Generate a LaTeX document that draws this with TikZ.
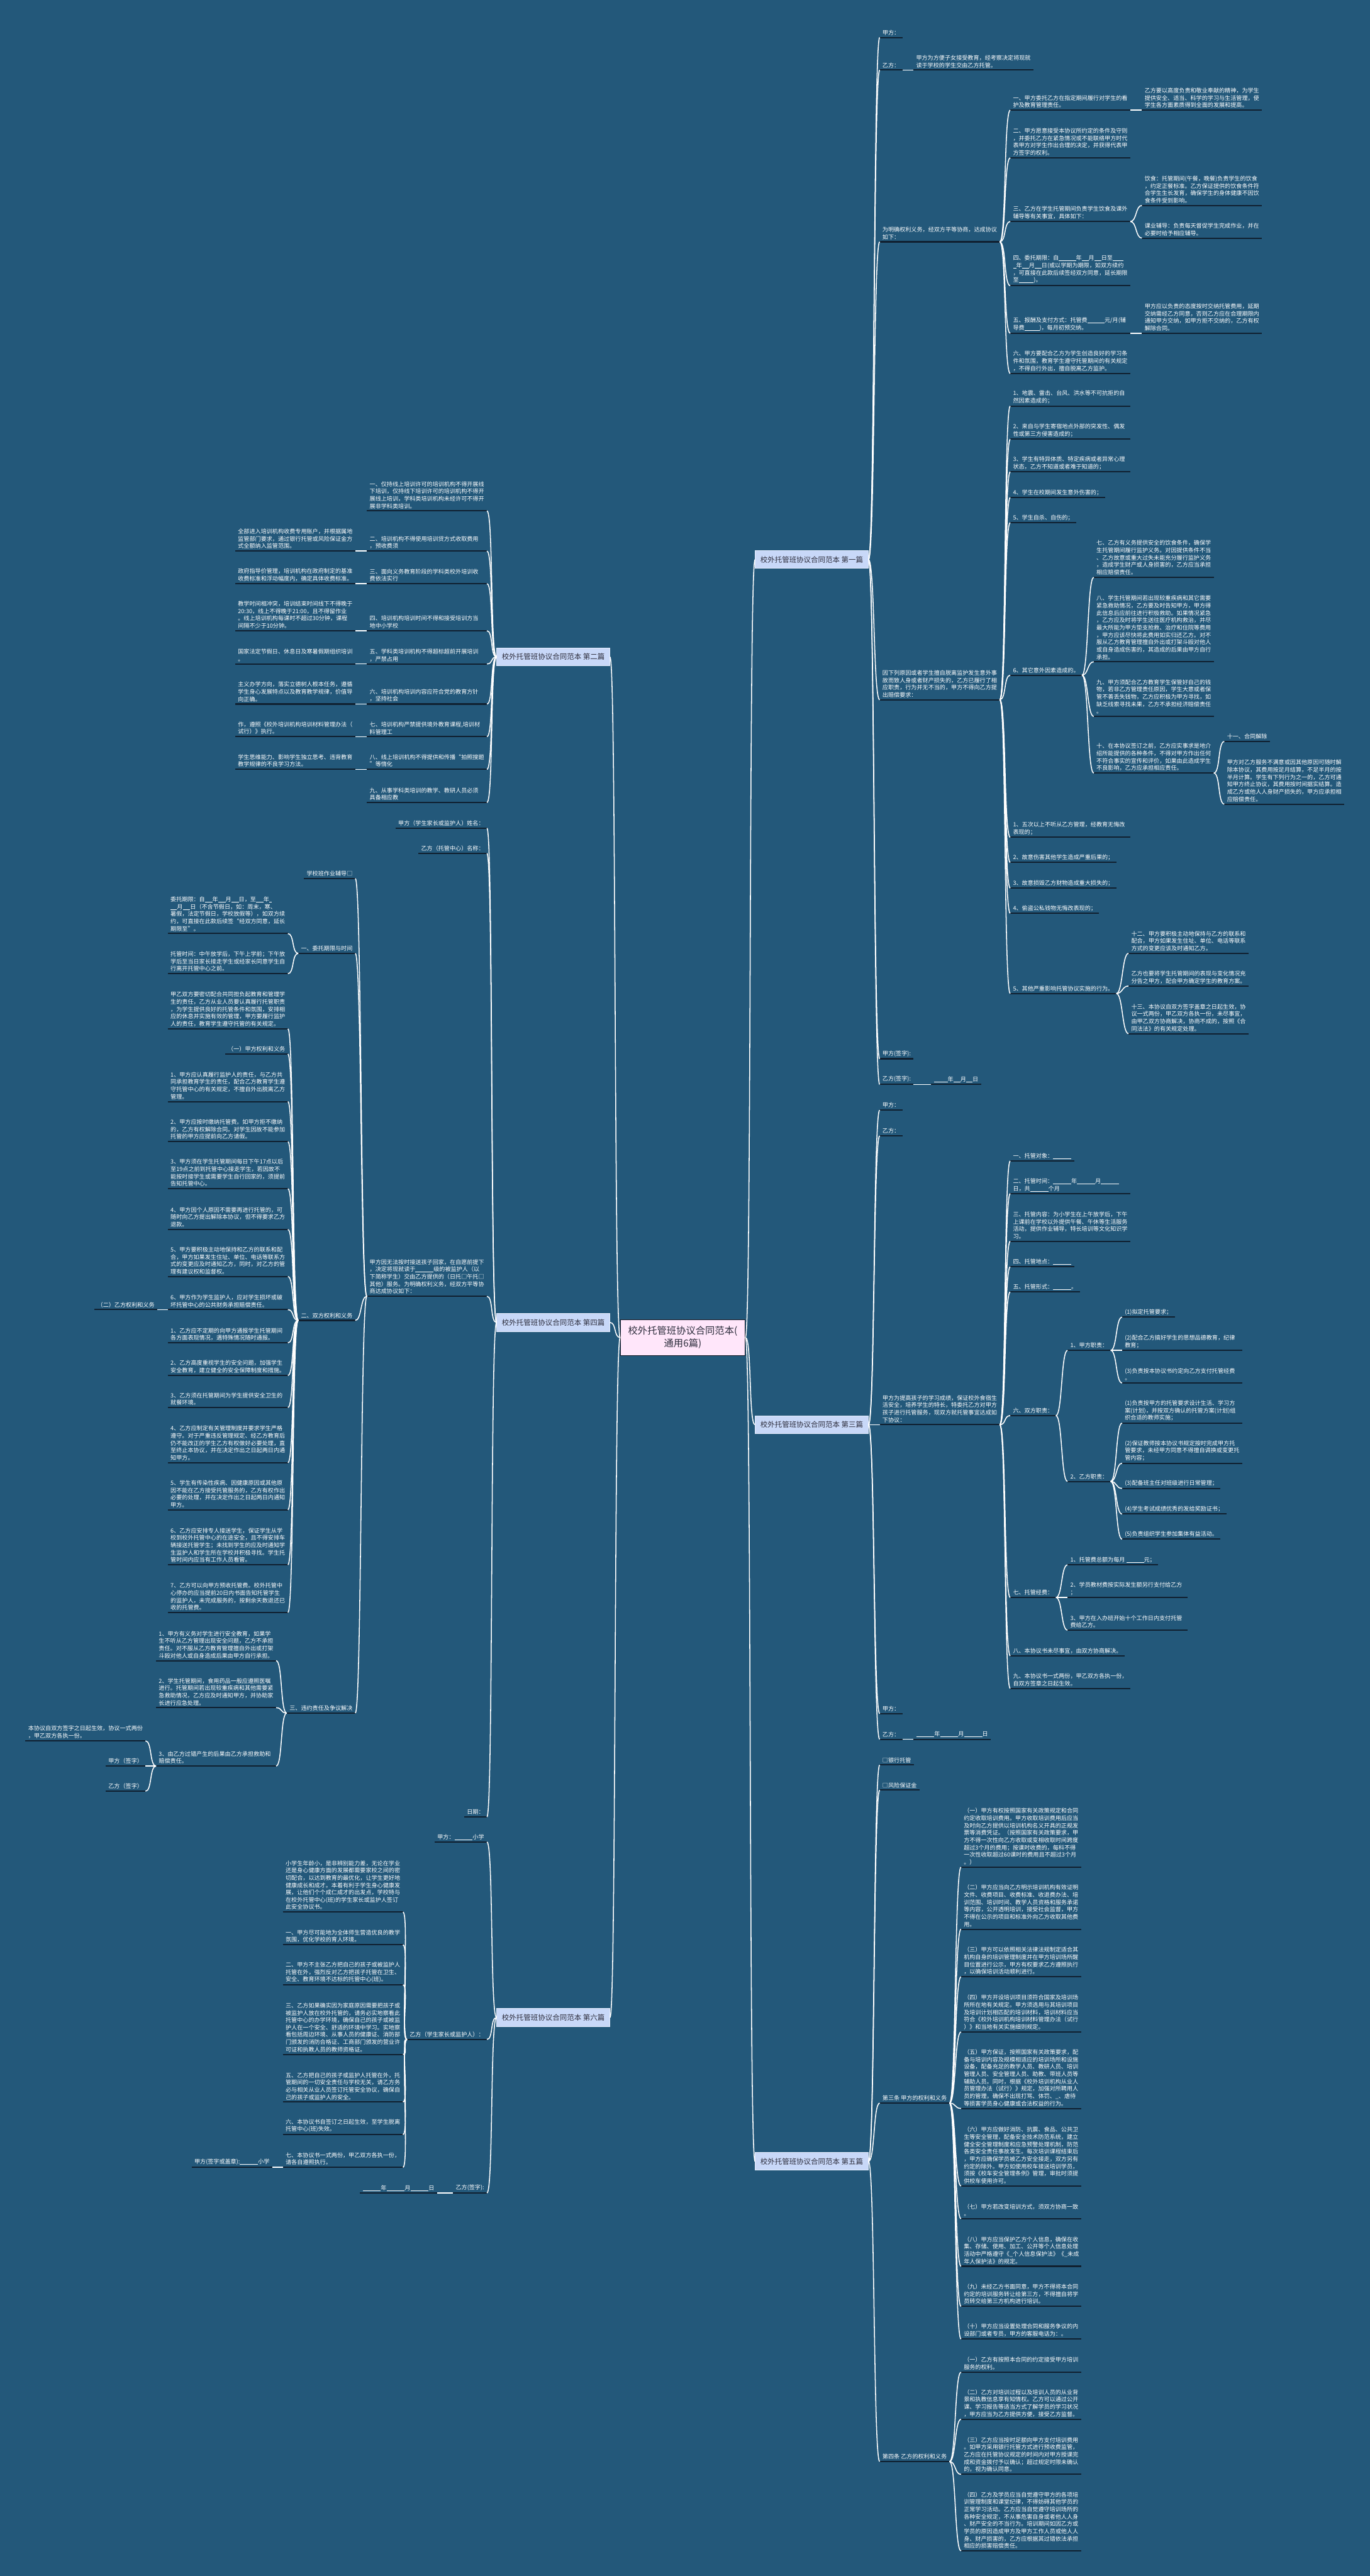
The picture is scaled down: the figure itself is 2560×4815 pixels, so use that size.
\documentclass[tikz,border=0pt]{standalone}
\usepackage{fontspec}
\setmainfont{Noto Sans CJK SC}
\usepackage{xcolor}
\usepackage{tikz}
\usetikzlibrary{calc}

\definecolor{bgblue}{RGB}{35,88,122}
\definecolor{ulinec}{RGB}{16,32,48}
\definecolor{branchfill}{RGB}{200,216,248}
\definecolor{branchline}{RGB}{228,236,252}
\definecolor{branchtext}{RGB}{45,45,60}
\definecolor{rootfill}{RGB}{255,230,250}
\definecolor{rootline}{RGB}{20,25,35}
\newcommand\leaffont{\fontsize{10.7}{13.7}\selectfont}
\newcommand\branchfont{\fontsize{13.5}{16}\selectfont}
\newcommand\rootfont{\fontsize{18}{23}\selectfont}
\newcommand\blk[1]{\rule[-1.2pt]{#1pt}{0.7pt}}

\tikzset{
  uline/.style={draw=ulinec, line width=2.4pt},
  leaf/.style={font=\leaffont, text=white, inner xsep=5pt, inner ysep=4pt, align=left,
    append after command={(\tikzlastnode.south west) edge[uline] (\tikzlastnode.south east)}},
  wide/.style={leaf, text width=214pt},
  branch/.style={draw=branchline, line width=1pt, fill=branchfill, text=branchtext, font=\branchfont,
    minimum width=211pt, minimum height=33pt, inner sep=3pt},
  root/.style={draw=rootline, line width=1pt, fill=rootfill, text=branchtext, font=\rootfont,
    align=center, minimum width=233pt, minimum height=67pt, inner sep=4pt},
  linkr/.style={draw=white, line width=1.8pt,
    to path={.. controls ($(\tikztostart)+(12,0)$) and ($(\tikztotarget)+(-12,0)$) .. (\tikztotarget)}},
  linkl/.style={draw=white, line width=1.8pt,
    to path={.. controls ($(\tikztostart)+(-12,0)$) and ($(\tikztotarget)+(12,0)$) .. (\tikztotarget)}}
}

\begin{document}
\begin{tikzpicture}[x=1pt, y=-1pt]
\useasboundingbox (0,0) rectangle (2560,4815);
\fill[bgblue] (0,0) rectangle (2560,4815);

% centre
\node[root] (root) at (1276,2500) {校外托管班协议合同范本(\\通用6篇)};
\node[branch] (p1) at (1517,1046) {校外托管班协议合同范本 第一篇};
\node[branch] (p3) at (1517,2663) {校外托管班协议合同范本 第三篇};
\node[branch] (p5) at (1517,4040) {校外托管班协议合同范本 第五篇};
\node[branch] (p2) at (1034,1228) {校外托管班协议合同范本 第二篇};
\node[branch] (p4) at (1034,2472) {校外托管班协议合同范本 第四篇};
\node[branch] (p6) at (1034,3771) {校外托管班协议合同范本 第六篇};

% first
\node[leaf, anchor=south west] (a1) at (1644,70) {甲方：};
\node[leaf, anchor=south west] (a2) at (1644,131) {乙方：};
\node[wide, anchor=south west] (a2a) at (1707,131) {甲方为方便子女接受教育，经考察决定将现就\\读于学校的学生交由乙方托管。};
\node[wide, anchor=south west] (a3) at (1644,452) {为明确权利义务，经双方平等协商，达成协议\\如下：};
\node[wide, anchor=south west] (a3a) at (1888,206) {一、甲方委托乙方在指定期间履行对学生的看\\护及教育管理责任。};
\node[wide, anchor=south west] (a3a1) at (2134,206) {乙方要以高度负责和敬业奉献的精神，为学生\\提供安全、适当、科学的学习与生活管理，使\\学生各方面素质得到全面的发展和提高。};
\node[wide, anchor=south west] (a3b) at (1888,295) {二、甲方愿意接受本协议所约定的条件及守则\\，并委托乙方在紧急情况或不能联络甲方时代\\表甲方对学生作出合理的决定，并获得代表甲\\方签字的权利。};
\node[wide, anchor=south west] (a3c) at (1888,414) {三、乙方在学生托管期间负责学生饮食及课外\\辅导等有关事宜，具体如下：};
\node[wide, anchor=south west] (a3c1) at (2134,384) {饮食：托管期间(午餐，晚餐)负责学生的饮食\\，约定正餐标准。乙方保证提供的饮食条件符\\合学生生长发育，确保学生的身体健康不因饮\\食条件受到影响。};
\node[wide, anchor=south west] (a3c2) at (2134,445) {课业辅导：负责每天督促学生完成作业，并在\\必要时给予相应辅导。};
\node[wide, anchor=south west] (a3d) at (1888,534) {四、委托期限：自\blk{32}年\blk{13}月\blk{13}日至\blk{20}\\\blk{6}年\blk{13}月\blk{13}日(或以学期为期限，如双方续约\\，可直接在此款后续签经双方同意，延长期限\\至\blk{28})。};
\node[wide, anchor=south west] (a3e) at (1888,623) {五、报酬及支付方式：托管费\blk{32}元/月(辅\\导费\blk{28})，每月初预交纳。};
\node[wide, anchor=south west] (a3e1) at (2134,623) {甲方应以负责的态度按时交纳托管费用，延期\\交纳需经乙方同意，否则乙方应在合理期限内\\通知甲方交纳，如甲方拒不交纳的，乙方有权\\解除合同。};
\node[wide, anchor=south west] (a3f) at (1888,698) {六、甲方要配合乙方为学生创造良好的学习条\\件和氛围，教育学生遵守托管期间的有关规定\\，不得自行外出，擅自脱离乙方监护。};
\node[wide, anchor=south west] (a4) at (1644,1308) {因下列原因或者学生擅自脱离监护发生意外事\\故而致人身或者财产损失的，乙方已履行了相\\应职责，行为并无不当的，甲方不得向乙方提\\出赔偿要求：};
\node[wide, anchor=south west] (a4a) at (1888,759) {1、地震、雷击、台风、洪水等不可抗拒的自\\然因素造成的；};
\node[wide, anchor=south west] (a4b) at (1888,821) {2、来自与学生寄宿地点外部的突发性、偶发\\性或第三方侵害造成的；};
\node[wide, anchor=south west] (a4c) at (1888,882) {3、学生有特异体质、特定疾病或者异常心理\\状态，乙方不知道或者难于知道的；};
\node[leaf, anchor=south west] (a4d) at (1888,930) {4、学生在校期间发生意外伤害的；};
\node[leaf, anchor=south west] (a4e) at (1888,977) {5、学生自杀、自伤的；};
\node[leaf, anchor=south west] (a4f) at (1888,1262) {6、其它意外因素造成的。};
\node[wide, anchor=south west] (a4f1) at (2044,1079) {七、乙方有义务提供安全的饮食条件，确保学\\生托管期间履行监护义务。对因提供条件不当\\、乙方故意或重大过失未能充分履行监护义务\\，造成学生财产或人身损害的，乙方应当承担\\相应赔偿责任。};
\node[wide, anchor=south west] (a4f2) at (2044,1237) {八、学生托管期间若出现较重疾病和其它需要\\紧急救助情况，乙方要及时告知甲方，甲方得\\此信息后应前往进行积极救助。如果情况紧急\\，乙方应及时将学生送往医疗机构救治，并尽\\最大所能为甲方垫支抢救、治疗和住院等费用\\，甲方应该尽快将此费用如实归还乙方。对不\\服从乙方教育管理擅自外出或打架斗殴对他人\\或自身造成伤害的，其造成的后果由甲方自行\\承担。};
\node[wide, anchor=south west] (a4f3) at (2044,1339) {九、甲方须配合乙方教育学生保管好自己的钱\\物，若非乙方管理责任原因，学生大意或者保\\管不善丢失钱物，乙方应积极为甲方寻找，如\\缺乏线索寻找未果，乙方不承担经济赔偿责任\\。};
\node[wide, anchor=south west] (a4f4) at (2044,1445) {十、在本协议签订之前，乙方应实事求是地介\\绍所能提供的各种条件，不得对甲方作出任何\\不符合事实的宣传和评价，如果由此造成学生\\不良影响，乙方应承担相应责任。};
\node[leaf, anchor=south west] (a4f4a) at (2288,1386) {十一、合同解除};
\node[wide, anchor=south west] (a4f4b) at (2288,1503) {甲方对乙方服务不满意或因其他原因可随时解\\除本协议，其费用按足月结算，不足半月的按\\半月计算。学生有下列行为之一的，乙方可通\\知甲方终止协议，其费用按时间据实结算。造\\成乙方或他人人身财产损失的，甲方应承担相\\应赔偿责任。};
\node[wide, anchor=south west] (a4g) at (1888,1565) {1、五次以上不听从乙方管理，经教育无悔改\\表现的；};
\node[leaf, anchor=south west] (a4h) at (1888,1612) {2、故意伤害其他学生造成严重后果的；};
\node[leaf, anchor=south west] (a4i) at (1888,1660) {3、故意损毁乙方财物造成重大损失的；};
\node[leaf, anchor=south west] (a4j) at (1888,1707) {4、偷盗公私钱物无悔改表现的；};
\node[leaf, anchor=south west] (a4k) at (1888,1857) {5、其他严重影响托管协议实施的行为。};
\node[wide, anchor=south west] (a4k1) at (2109,1782) {十二、甲方要积极主动地保持与乙方的联系和\\配合，甲方如果发生住址、单位、电话等联系\\方式的变更应该及时通知乙方。};
\node[wide, anchor=south west] (a4k2) at (2109,1843) {乙方也要将学生托管期间的表现与变化情况充\\分告之甲方，配合甲方确定学生的教育方案。};
\node[wide, anchor=south west] (a4k3) at (2109,1932) {十三、本协议自双方签字盖章之日起生效，协\\议一式两份，甲乙双方各执一份，未尽事宜，\\由甲乙双方协商解决，协商不成的，按照《合\\同法法》的有关规定处理。};
\node[leaf, anchor=south west] (a5) at (1644,1979) {甲方(签字):};
\node[leaf, anchor=south west] (a6) at (1644,2027) {乙方(签字):};
\node[leaf, anchor=south west] (a6a) at (1740,2027) {\blk{26}年\blk{13}月\blk{12}日};

% third
\node[leaf, anchor=south west] (c1) at (1644,2075) {甲方：};
\node[leaf, anchor=south west] (c2) at (1644,2123) {乙方：};
\node[wide, anchor=south west] (c3) at (1644,2663) {甲方为提高孩子的学习成绩，保证校外食宿生\\活安全，培养学生的特长，特委托乙方对甲方\\孩子进行托管服务，现双方就托管事宜达成如\\下协议：};
\node[leaf, anchor=south west] (c3a) at (1888,2170) {一、托管对象：\blk{34}};
\node[wide, anchor=south west] (c3b) at (1888,2231) {二、托管时间：\blk{34}年\blk{34}月\blk{34}\\日，共\blk{34}个月};
\node[wide, anchor=south west] (c3c) at (1888,2320) {三、托管内容：为小学生在上午放学后，下午\\上课前在学校以外提供午餐、午休等生活服务\\活动，提供作业辅导，特长培训等文化知识学\\习。};
\node[leaf, anchor=south west] (c3d) at (1888,2368) {四、托管地点：\blk{34}};
\node[leaf, anchor=south west] (c3e) at (1888,2415) {五、托管形式：\blk{34}。};
\node[leaf, anchor=south west] (c3f) at (1888,2646) {六、双方职责：};
\node[leaf, anchor=south west] (c3f1) at (1995,2524) {1、甲方职责：};
\node[leaf, anchor=south west] (c3f1a) at (2097,2462) {(1)拟定托管要求；};
\node[wide, anchor=south west] (c3f1b) at (2097,2524) {(2)配合乙方搞好学生的思想品德教育，纪律\\教育；};
\node[wide, anchor=south west] (c3f1c) at (2097,2585) {(3)负责按本协议书约定向乙方支付托管经费\\。};
\node[leaf, anchor=south west] (c3f2) at (1995,2769) {2、乙方职责：};
\node[wide, anchor=south west] (c3f2a) at (2097,2660) {(1)负责按甲方的托管要求设计生活、学习方\\案(计划)，并按双方确认的托管方案(计划)组\\织合适的教师实施；};
\node[wide, anchor=south west] (c3f2b) at (2097,2735) {(2)保证教师按本协议书规定按时完成甲方托\\管要求，未经甲方同意不得擅自调换或变更托\\管内容；};
\node[leaf, anchor=south west] (c3f2c) at (2097,2782) {(3)配备班主任对班级进行日常管理；};
\node[leaf, anchor=south west] (c3f2d) at (2097,2830) {(4)学生考试成绩优秀的发给奖励证书；};
\node[leaf, anchor=south west] (c3f2e) at (2097,2877) {(5)负责组织学生参加集体有益活动。};
\node[leaf, anchor=south west] (c3g) at (1888,2986) {七、托管经费：};
\node[leaf, anchor=south west] (c3g1) at (1995,2925) {1、托管费总额为每月 \blk{33}元；};
\node[wide, anchor=south west] (c3g2) at (1995,2986) {2、学员教材费按实际发生额另行支付给乙方\\；};
\node[wide, anchor=south west] (c3g3) at (1995,3047) {3、甲方在入办班开始十个工作日内支付托管\\费给乙方。};
\node[leaf, anchor=south west] (c3h) at (1888,3095) {八、本协议书未尽事宜，由双方协商解决。};
\node[wide, anchor=south west] (c3i) at (1888,3156) {九、本协议书一式两份，甲乙双方各执一份，\\自双方签章之日起生效。};
\node[leaf, anchor=south west] (c4) at (1644,3203) {甲方：};
\node[leaf, anchor=south west] (c5) at (1644,3251) {乙方：};
\node[leaf, anchor=south west] (c5a) at (1707,3251) {\blk{34}年\blk{34}月\blk{34}日};

% fifth
\node[leaf, anchor=south west] (e1) at (1644,3299) {□银行托管};
\node[leaf, anchor=south west] (e2) at (1644,3346) {□风险保证金};
\node[leaf, anchor=south west] (e3) at (1644,3931) {第三条 甲方的权利和义务};
\node[wide, anchor=south west] (e3a) at (1796,3490) {（一）甲方有权按照国家有关政策规定和合同\\约定收取培训费用。甲方收取培训费用后应当\\及时向乙方提供以培训机构名义开具的正规发\\票等消费凭证。（按照国家有关政策要求，甲\\方不得一次性向乙方收取或变相收取时间跨度\\超过3个月的费用；按课时收费的，每科不得\\一次性收取超过60课时的费用且不超过3个月\\。）};
\node[wide, anchor=south west] (e3b) at (1796,3606) {（二）甲方应当向乙方明示培训机构有效证明\\文件、收费项目、收费标准、收退费办法、培\\训范围、培训时间、教学人员资格和服务承诺\\等内容，公开透明培训，接受社会监督，甲方\\不得在公示的项目和标准外向乙方收取其他费\\用。};
\node[wide, anchor=south west] (e3c) at (1796,3695) {（三）甲方可以依照相关法律法规制定适合其\\机构自身的培训管理制度并在甲方培训场所醒\\目位置进行公示，甲方有权要求乙方遵照执行\\，以确保培训活动顺利进行。};
\node[wide, anchor=south west] (e3d) at (1796,3798) {（四）甲方开设培训项目须符合国家及培训场\\所所在地有关规定。甲方须选用与其培训项目\\及培训计划相匹配的培训材料，培训材料应当\\符合《校外培训机构培训材料管理办法（试行\\）》和当地有关实施细则规定。};
\node[wide, anchor=south west] (e3e) at (1796,3941) {（五）甲方保证，按照国家有关政策要求，配\\备与培训内容及规模相适应的培训场所和设施\\设备，配备充足的教学人员、教研人员、培训\\管理人员、安全管理人员、助教、带班人员等\\辅助人员。同时，根据《校外培训机构从业人\\员管理办法（试行）》规定，加强对所聘用人\\员的管理，确保不出现打骂、体罚、\_、虐待\\等损害学员身心健康或合法权益的行为。};
\node[wide, anchor=south west] (e3f) at (1796,4086) {（六）甲方应做好消防、抗震、食品、公共卫\\生等安全管理，配备安全技术防范系统，建立\\健全安全管理制度和应急预警处理机制，防范\\各类安全责任事故发生。每次培训课程结束后\\，甲方应确保学员被乙方安全接走，双方另有\\约定的除外。甲方如使用校车接送培训学员，\\须按《校车安全管理条例》管理，审批时须提\\供校车使用许可。};
\node[wide, anchor=south west] (e3g) at (1796,4147) {（七）甲方若改变培训方式，须双方协商一致\\。};
\node[wide, anchor=south west] (e3h) at (1796,4236) {（八）甲方应当保护乙方个人信息，确保在收\\集、存储、使用、加工、公开等个人信息处理\\活动中严格遵守《\_个人信息保护法》《\_未成\\年人保护法》的规定。};
\node[wide, anchor=south west] (e3i) at (1796,4311) {（九）未经乙方书面同意，甲方不得将本合同\\约定的培训服务转让给第三方，不得擅自将学\\员转交给第三方机构进行培训。};
\node[wide, anchor=south west] (e3j) at (1796,4372) {（十）甲方应当设置处理合同和服务争议的内\\设部门或者专员，甲方的客服电话为：。};
\node[leaf, anchor=south west] (e4) at (1644,4601) {第四条 乙方的权利和义务};
\node[wide, anchor=south west] (e4a) at (1796,4434) {（一）乙方有按照本合同的约定接受甲方培训\\服务的权利。};
\node[wide, anchor=south west] (e4b) at (1796,4522) {（二）乙方对培训过程以及培训人员的从业背\\景和执教信息享有知情权。乙方可以通过公开\\课、学习报告等适当方式了解学员的学习状况\\，甲方应当为乙方提供方便，接受乙方监督。};
\node[wide, anchor=south west] (e4c) at (1796,4625) {（三）乙方应当按时足额向甲方支付培训费用\\。如甲方采用银行托管方式进行预收费监管，\\乙方应在托管协议规定的时间内对甲方授课完\\成和资金拨付予以确认；超过规定时限未确认\\的，视为确认同意。};
\node[wide, anchor=south west] (e4d) at (1796,4768) {（四）乙方及学员应当自觉遵守甲方的各项培\\训管理制度和课堂纪律，不得妨碍其他学员的\\正常学习活动。乙方应当自觉遵守培训场所的\\各种安全规定，不从事危害自身或者他人人身\\、财产安全的不当行为。培训期间如因乙方或\\学员的原因造成甲方及甲方工作人员或他人人\\身、财产损害的，乙方应根据其过错依法承担\\相应的损害赔偿责任。};

% second
\node[wide, anchor=south east] (b1) at (910,955) {一、仅持线上培训许可的培训机构不得开展线\\下培训，仅持线下培训许可的培训机构不得开\\展线上培训，学科类培训机构未经许可不得开\\展非学科类培训。};
\node[wide, anchor=south east] (b2) at (910,1030) {二、培训机构不得使用培训贷方式收取费用\\，预收费须};
\node[wide, anchor=south east] (b2a) at (664,1030) {全部进入培训机构收费专用账户，并根据属地\\监管部门要求，通过银行托管或风险保证金方\\式全额纳入监管范围。};
\node[wide, anchor=south east] (b3) at (910,1091) {三、面向义务教育阶段的学科类校外培训收\\费依法实行};
\node[wide, anchor=south east] (b3a) at (664,1091) {政府指导价管理，培训机构在政府制定的基准\\收费标准和浮动幅度内，确定具体收费标准。};
\node[wide, anchor=south east] (b4) at (910,1179) {四、培训机构培训时间不得和接受培训方当\\地中小学校};
\node[wide, anchor=south east] (b4a) at (664,1179) {教学时间相冲突，培训结束时间线下不得晚于\\20:30，线上不得晚于21:00，且不得留作业\\。线上培训机构每课时不超过30分钟，课程\\间隔不少于10分钟。};
\node[wide, anchor=south east] (b5) at (910,1241) {五、学科类培训机构不得超标超前开展培训\\，严禁占用};
\node[wide, anchor=south east] (b5a) at (664,1241) {国家法定节假日、休息日及寒暑假期组织培训\\。};
\node[wide, anchor=south east] (b6) at (910,1316) {六、培训机构培训内容应符合党的教育方针\\，坚持社会};
\node[wide, anchor=south east] (b6a) at (664,1316) {主义办学方向，落实立德树人根本任务，遵循\\学生身心发展特点以及教育教学规律，价值导\\向正确。};
\node[wide, anchor=south east] (b7) at (910,1377) {七、培训机构严禁提供境外教育课程,培训材\\料管理工};
\node[wide, anchor=south east] (b7a) at (664,1377) {作，遵照《校外培训机构培训材料管理办法（\\试行）》执行。};
\node[wide, anchor=south east] (b8) at (910,1438) {八、线上培训机构不得提供和传播“拍照搜题\\”等惰化};
\node[wide, anchor=south east] (b8a) at (664,1438) {学生思维能力、影响学生独立思考、违背教育\\教学规律的不良学习方法。};
\node[wide, anchor=south east] (b9) at (910,1500) {九、从事学科类培训的教学、教研人员必须\\具备相应教};

% fourth
\node[leaf, anchor=south east] (d1) at (910,1548) {甲方（学生家长或监护人）姓名：};
\node[leaf, anchor=south east] (d2) at (910,1595) {乙方（托管中心）名称：};
\node[wide, anchor=south east] (d3) at (910,2423) {甲方因无法按时接送孩子回家，在自愿前提下\\，决定将现就读于\blk{34}级的被监护人（以\\下简称学生）交由乙方提供的（日托□午托□\\其他）服务。为明确权利义务，经双方平等协\\商达成协议如下：};
\node[leaf, anchor=south east] (d3a) at (664,1642) {学校班作业辅导□};
\node[leaf, anchor=south east] (d3b) at (664,1782) {一、委托期限与时间};
\node[wide, anchor=south east] (d3b1) at (538,1745) {委托期限：自\blk{14}年\blk{14}月\blk{14}日，至\blk{14}年\blk{5}\\\blk{12}月\blk{14}日（不含节假日，如：周末，寒、\\暑假，法定节假日，学校放假等），如双方续\\约，可直接在此款后续签“经双方同意，延长\\期限至”。};
\node[wide, anchor=south east] (d3b2) at (538,1820) {托管时间：中午放学后，下午上学前；下午放\\学后至当日家长接走学生或经家长同意学生自\\行离开托管中心之前。};
\node[leaf, anchor=south east] (d3c) at (664,2468) {二、双方权利和义务};
\node[wide, anchor=south east] (d3c1) at (538,1923) {甲乙双方要密切配合共同担负起教育和管理学\\生的责任，乙方从业人员要认真履行托管职责\\，为学生提供良好的托管条件和氛围，安排相\\应的休息并实施有效的管理，甲方要履行监护\\人的责任，教育学生遵守托管的有关规定。};
\node[leaf, anchor=south east] (d3c2) at (538,1970) {（一）甲方权利和义务};
\node[wide, anchor=south east] (d3c3) at (538,2059) {1、甲方应认真履行监护人的责任，与乙方共\\同承担教育学生的责任，配合乙方教育学生遵\\守托管中心的有关规定，不擅自外出脱离乙方\\管理。};
\node[wide, anchor=south east] (d3c4) at (538,2134) {2、甲方应按时缴纳托管费。如甲方拒不缴纳\\的，乙方有权解除合同。对学生因故不能参加\\托管的甲方应提前向乙方请假。};
\node[wide, anchor=south east] (d3c5) at (538,2222) {3、甲方须在学生托管期间每日下午17点以后\\至19点之前到托管中心接走学生，若因故不\\能按时接学生或需要学生自行回家的，须提前\\告知托管中心。};
\node[wide, anchor=south east] (d3c6) at (538,2298) {4、甲方因个人原因不需要再进行托管的，可\\随时向乙方提出解除本协议，但不得要求乙方\\退款。};
\node[wide, anchor=south east] (d3c7) at (538,2386) {5、甲方要积极主动地保持和乙方的联系和配\\合，甲方如果发生住址、单位、电话等联系方\\式的变更应及时通知乙方，同时，对乙方的管\\理有建议权和监督权。};
\node[wide, anchor=south east] (d3c8) at (538,2448) {6、甲方作为学生监护人，应对学生损坏或破\\坏托管中心的公共财务承担赔偿责任。};
\node[leaf, anchor=south east] (d3c8a) at (294,2448) {（二）乙方权利和义务};
\node[wide, anchor=south east] (d3c9) at (538,2510) {1、乙方应不定期的向甲方通报学生托管期间\\各方面表现情况，遇特殊情况随时通报。};
\node[wide, anchor=south east] (d3c10) at (538,2571) {2、乙方高度重视学生的安全问题，加强学生\\安全教育，建立健全的安全保障制度和措施。};
\node[wide, anchor=south east] (d3c11) at (538,2631) {3、乙方须在托管期间为学生提供安全卫生的\\就餐环境。};
\node[wide, anchor=south east] (d3c12) at (538,2734) {4、乙方应制定有关管理制度并要求学生严格\\遵守。对于严重违反管理规定、经乙方教育后\\仍不能改正的学生乙方有权做好必要处理，直\\至终止本协议，并在决定作出之日起两日内通\\知甲方。};
\node[wide, anchor=south east] (d3c13) at (538,2822) {5、学生有传染性疾病、因健康原因或其他原\\因不能在乙方接受托管服务的，乙方有权作出\\必要的处理，并在决定作出之日起两日内通知\\甲方。};
\node[wide, anchor=south east] (d3c14) at (538,2925) {6、乙方应安排专人接送学生，保证学生从学\\校到校外托管中心的在途安全，且不得安排车\\辆接送托管学生；未找到学生的应及时通知学\\生监护人和学生所在学校并积极寻找。学生托\\管时间内应当有工作人员看管。};
\node[wide, anchor=south east] (d3c15) at (538,3014) {7、乙方可以向甲方预收托管费。校外托管中\\心停办的应当提前20日内书面告知托管学生\\的监护人，未完成服务的，按剩余天数退还已\\收的托管费。};
\node[leaf, anchor=south east] (d3d) at (664,3202) {三、违约责任及争议解决};
\node[wide, anchor=south east] (d3d1) at (516,3104) {1、甲方有义务对学生进行安全教育，如果学\\生不听从乙方管理出现安全问题，乙方不承担\\责任。对不服从乙方教育管理擅自外出或打架\\斗殴对他人或自身造成后果由甲方自行承担。};
\node[wide, anchor=south east] (d3d2) at (516,3192) {2、学生托管期间，食用药品一般应遵照医嘱\\进行。托管期间若出现较重疾病和其他需要紧\\急救助情况，乙方应及时通知甲方，并协助家\\长进行应急处理。};
\node[wide, anchor=south east] (d3d3) at (516,3301) {3、由乙方过错产生的后果由乙方承担救助和\\赔偿责任。};
\node[wide, anchor=south east] (d3d3a) at (272,3254) {本协议自双方签字之日起生效，协议一式两份\\，甲乙双方各执一份。};
\node[leaf, anchor=south east] (d3d3b) at (272,3301) {甲方（签字）};
\node[leaf, anchor=south east] (d3d3c) at (272,3348) {乙方（签字）};
\node[leaf, anchor=south east] (d4) at (910,3396) {日期：};

% sixth
\node[leaf, anchor=south east] (f1) at (910,3443) {甲方：\blk{34}小学};
\node[leaf, anchor=south east] (f2) at (910,3812) {乙方（学生家长或监护人）：};
\node[wide, anchor=south east] (f2a) at (753,3574) {小学生年龄小，是非辨别能力差，无论在学业\\还是身心健康方面的发展都需要家校之间的密\\切配合，以达到教育的最优化，让学生更好地\\健康成长和成才。本着有利于学生身心健康发\\展，让他们个个成仁成才的出发点，学校特与\\在校外托管中心(班)的学生家长或监护人签订\\此安全协议书。};
\node[wide, anchor=south east] (f2b) at (753,3635) {一、甲方尽可能地为全体师生营造优良的教学\\氛围，优化学校的育人环境。};
\node[wide, anchor=south east] (f2c) at (753,3710) {二、甲方不主张乙方把自己的孩子或被监护人\\托管在外，强烈反对乙方把孩子托管在卫生、\\安全、教育环境不达标的托管中心(班)。};
\node[wide, anchor=south east] (f2d) at (753,3840) {三、乙方如果确实因为家庭原因需要把孩子或\\被监护人放在校外托管的，请务必实地察看此\\托管中心的办学环境，确保自己的孩子或被监\\护人在一个安全、舒适的环境中学习。实地察\\看包括周边环境、从事人员的健康证、消防部\\门颁发的消防合格证、工商部门颁发的营业许\\可证和执教人员的教师资格证。};
\node[wide, anchor=south east] (f2e) at (753,3929) {五、乙方把自己的孩子或监护人托管在外，托\\管期间的一切安全责任与学校无关，请乙方务\\必与相关从业人员签订托管安全协议，确保自\\己的孩子或监护人的安全。};
\node[wide, anchor=south east] (f2f) at (753,3990) {六、本协议书自签订之日起生效，至学生脱离\\托管中心(班)失效。};
\node[wide, anchor=south east] (f2g) at (753,4051) {七、本协议书一式两份，甲乙双方各执一份，\\请各自遵照执行。};
\node[leaf, anchor=south east] (f2g1) at (509,4051) {甲方(签字或盖章):\blk{34}小学};
\node[leaf, anchor=south east] (f3) at (910,4099) {乙方(签字):};
\node[leaf, anchor=south east] (f3a) at (817,4099) {\blk{34}年\blk{34}月\blk{34}日};

% links
\draw[linkr] (root.east) to (p1.west);
\draw[linkr] (root.east) to (p3.west);
\draw[linkr] (root.east) to (p5.west);
\draw[linkl] (root.west) to (p2.east);
\draw[linkl] (root.west) to (p4.east);
\draw[linkl] (root.west) to (p6.east);

\draw[linkr] (p1.east) to (a1.south west);
\draw[linkr] (p1.east) to (a2.south west);
\draw[linkr] (p1.east) to (a3.south west);
\draw[linkr] (p1.east) to (a4.south west);
\draw[linkr] (p1.east) to (a5.south west);
\draw[linkr] (p1.east) to (a6.south west);
\draw[linkr] (a2.south east) to (a2a.south west);
\draw[linkr] (a3.south east) to (a3a.south west);
\draw[linkr] (a3.south east) to (a3b.south west);
\draw[linkr] (a3.south east) to (a3c.south west);
\draw[linkr] (a3.south east) to (a3d.south west);
\draw[linkr] (a3.south east) to (a3e.south west);
\draw[linkr] (a3.south east) to (a3f.south west);
\draw[linkr] (a3a.south east) to (a3a1.south west);
\draw[linkr] (a3c.south east) to (a3c1.south west);
\draw[linkr] (a3c.south east) to (a3c2.south west);
\draw[linkr] (a3e.south east) to (a3e1.south west);
\draw[linkr] (a4.south east) to (a4a.south west);
\draw[linkr] (a4.south east) to (a4b.south west);
\draw[linkr] (a4.south east) to (a4c.south west);
\draw[linkr] (a4.south east) to (a4d.south west);
\draw[linkr] (a4.south east) to (a4e.south west);
\draw[linkr] (a4.south east) to (a4f.south west);
\draw[linkr] (a4.south east) to (a4g.south west);
\draw[linkr] (a4.south east) to (a4h.south west);
\draw[linkr] (a4.south east) to (a4i.south west);
\draw[linkr] (a4.south east) to (a4j.south west);
\draw[linkr] (a4.south east) to (a4k.south west);
\draw[linkr] (a4f.south east) to (a4f1.south west);
\draw[linkr] (a4f.south east) to (a4f2.south west);
\draw[linkr] (a4f.south east) to (a4f3.south west);
\draw[linkr] (a4f.south east) to (a4f4.south west);
\draw[linkr] (a4f4.south east) to (a4f4a.south west);
\draw[linkr] (a4f4.south east) to (a4f4b.south west);
\draw[linkr] (a4k.south east) to (a4k1.south west);
\draw[linkr] (a4k.south east) to (a4k2.south west);
\draw[linkr] (a4k.south east) to (a4k3.south west);
\draw[linkr] (a6.south east) to (a6a.south west);

\draw[linkr] (p3.east) to (c1.south west);
\draw[linkr] (p3.east) to (c2.south west);
\draw[linkr] (p3.east) to (c3.south west);
\draw[linkr] (p3.east) to (c4.south west);
\draw[linkr] (p3.east) to (c5.south west);
\draw[linkr] (c3.south east) to (c3a.south west);
\draw[linkr] (c3.south east) to (c3b.south west);
\draw[linkr] (c3.south east) to (c3c.south west);
\draw[linkr] (c3.south east) to (c3d.south west);
\draw[linkr] (c3.south east) to (c3e.south west);
\draw[linkr] (c3.south east) to (c3f.south west);
\draw[linkr] (c3.south east) to (c3g.south west);
\draw[linkr] (c3.south east) to (c3h.south west);
\draw[linkr] (c3.south east) to (c3i.south west);
\draw[linkr] (c3f.south east) to (c3f1.south west);
\draw[linkr] (c3f.south east) to (c3f2.south west);
\draw[linkr] (c3f1.south east) to (c3f1a.south west);
\draw[linkr] (c3f1.south east) to (c3f1b.south west);
\draw[linkr] (c3f1.south east) to (c3f1c.south west);
\draw[linkr] (c3f2.south east) to (c3f2a.south west);
\draw[linkr] (c3f2.south east) to (c3f2b.south west);
\draw[linkr] (c3f2.south east) to (c3f2c.south west);
\draw[linkr] (c3f2.south east) to (c3f2d.south west);
\draw[linkr] (c3f2.south east) to (c3f2e.south west);
\draw[linkr] (c3g.south east) to (c3g1.south west);
\draw[linkr] (c3g.south east) to (c3g2.south west);
\draw[linkr] (c3g.south east) to (c3g3.south west);
\draw[linkr] (c5.south east) to (c5a.south west);

\draw[linkr] (p5.east) to (e1.south west);
\draw[linkr] (p5.east) to (e2.south west);
\draw[linkr] (p5.east) to (e3.south west);
\draw[linkr] (p5.east) to (e4.south west);
\draw[linkr] (e3.south east) to (e3a.south west);
\draw[linkr] (e3.south east) to (e3b.south west);
\draw[linkr] (e3.south east) to (e3c.south west);
\draw[linkr] (e3.south east) to (e3d.south west);
\draw[linkr] (e3.south east) to (e3e.south west);
\draw[linkr] (e3.south east) to (e3f.south west);
\draw[linkr] (e3.south east) to (e3g.south west);
\draw[linkr] (e3.south east) to (e3h.south west);
\draw[linkr] (e3.south east) to (e3i.south west);
\draw[linkr] (e3.south east) to (e3j.south west);
\draw[linkr] (e4.south east) to (e4a.south west);
\draw[linkr] (e4.south east) to (e4b.south west);
\draw[linkr] (e4.south east) to (e4c.south west);
\draw[linkr] (e4.south east) to (e4d.south west);

\draw[linkl] (p2.west) to (b1.south east);
\draw[linkl] (p2.west) to (b2.south east);
\draw[linkl] (p2.west) to (b3.south east);
\draw[linkl] (p2.west) to (b4.south east);
\draw[linkl] (p2.west) to (b5.south east);
\draw[linkl] (p2.west) to (b6.south east);
\draw[linkl] (p2.west) to (b7.south east);
\draw[linkl] (p2.west) to (b8.south east);
\draw[linkl] (p2.west) to (b9.south east);
\draw[linkl] (b2.south west) to (b2a.south east);
\draw[linkl] (b3.south west) to (b3a.south east);
\draw[linkl] (b4.south west) to (b4a.south east);
\draw[linkl] (b5.south west) to (b5a.south east);
\draw[linkl] (b6.south west) to (b6a.south east);
\draw[linkl] (b7.south west) to (b7a.south east);
\draw[linkl] (b8.south west) to (b8a.south east);

\draw[linkl] (p4.west) to (d1.south east);
\draw[linkl] (p4.west) to (d2.south east);
\draw[linkl] (p4.west) to (d3.south east);
\draw[linkl] (p4.west) to (d4.south east);
\draw[linkl] (d3.south west) to (d3a.south east);
\draw[linkl] (d3.south west) to (d3b.south east);
\draw[linkl] (d3.south west) to (d3c.south east);
\draw[linkl] (d3.south west) to (d3d.south east);
\draw[linkl] (d3b.south west) to (d3b1.south east);
\draw[linkl] (d3b.south west) to (d3b2.south east);
\draw[linkl] (d3c.south west) to (d3c1.south east);
\draw[linkl] (d3c.south west) to (d3c2.south east);
\draw[linkl] (d3c.south west) to (d3c3.south east);
\draw[linkl] (d3c.south west) to (d3c4.south east);
\draw[linkl] (d3c.south west) to (d3c5.south east);
\draw[linkl] (d3c.south west) to (d3c6.south east);
\draw[linkl] (d3c.south west) to (d3c7.south east);
\draw[linkl] (d3c.south west) to (d3c8.south east);
\draw[linkl] (d3c.south west) to (d3c9.south east);
\draw[linkl] (d3c.south west) to (d3c10.south east);
\draw[linkl] (d3c.south west) to (d3c11.south east);
\draw[linkl] (d3c.south west) to (d3c12.south east);
\draw[linkl] (d3c.south west) to (d3c13.south east);
\draw[linkl] (d3c.south west) to (d3c14.south east);
\draw[linkl] (d3c.south west) to (d3c15.south east);
\draw[linkl] (d3c8.south west) to (d3c8a.south east);
\draw[linkl] (d3d.south west) to (d3d1.south east);
\draw[linkl] (d3d.south west) to (d3d2.south east);
\draw[linkl] (d3d.south west) to (d3d3.south east);
\draw[linkl] (d3d3.south west) to (d3d3a.south east);
\draw[linkl] (d3d3.south west) to (d3d3b.south east);
\draw[linkl] (d3d3.south west) to (d3d3c.south east);

\draw[linkl] (p6.west) to (f1.south east);
\draw[linkl] (p6.west) to (f2.south east);
\draw[linkl] (p6.west) to (f3.south east);
\draw[linkl] (f2.south west) to (f2a.south east);
\draw[linkl] (f2.south west) to (f2b.south east);
\draw[linkl] (f2.south west) to (f2c.south east);
\draw[linkl] (f2.south west) to (f2d.south east);
\draw[linkl] (f2.south west) to (f2e.south east);
\draw[linkl] (f2.south west) to (f2f.south east);
\draw[linkl] (f2.south west) to (f2g.south east);
\draw[linkl] (f2g.south west) to (f2g1.south east);
\draw[linkl] (f3.south west) to (f3a.south east);
\end{tikzpicture}
\end{document}
